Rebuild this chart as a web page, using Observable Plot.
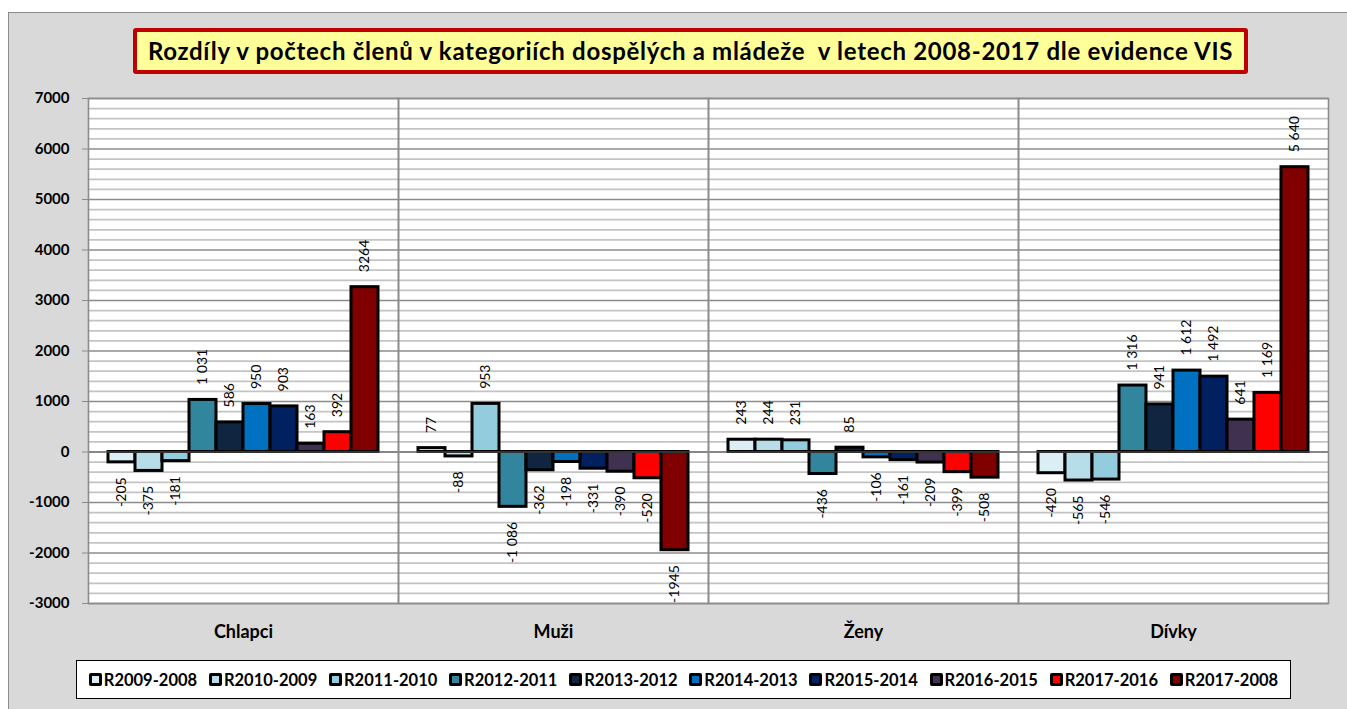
<!DOCTYPE html>
<html><head><meta charset="utf-8">
<script src="https://cdn.jsdelivr.net/npm/d3@7"></script>
<script src="https://cdn.jsdelivr.net/npm/@observablehq/plot@0.6"></script>
<style>
body{margin:0;background:#fff;font-family:Lato,"Open Sans",sans-serif;}
#wrap{position:relative;width:1347px;height:709px;overflow:hidden;}
#panel{position:absolute;left:8px;top:12px;width:1345px;height:705px;background:#d9d9d9;border:1px solid #8c8c8c;}
#title{position:absolute;left:133px;top:28px;width:1107px;height:38px;background:#ffff99;border:4px solid #c00000;border-radius:3px;font-weight:bold;font-size:24px;letter-spacing:0.7px;line-height:38px;text-align:center;white-space:pre;color:#000;}
#chart{position:absolute;left:0;top:0;}
#legend{position:absolute;left:76px;top:660px;width:1215px;height:39px;box-sizing:border-box;background:#fff;border:1.5px solid #000;display:flex;align-items:center;justify-content:space-evenly;font-weight:bold;font-size:16.5px;}
.it{white-space:nowrap;}
.sw{display:inline-block;width:7px;height:7px;border:3px solid #000;border-radius:2px;margin-right:2px;vertical-align:0px;}
</style>
</head><body>
<div id="wrap">
  <div id="panel"></div>
  <div id="title"></div>
  <div id="chart"></div>
  <div id="legend"></div>
</div>
<script>
const titleText = "Rozdíly v počtech členů v kategoriích dospělých a mládeže  v letech 2008-2017 dle evidence VIS";
const categories = ["Chlapci", "Muži", "Ženy", "Dívky"];
const series = ["R2009-2008","R2010-2009","R2011-2010","R2012-2011","R2013-2012","R2014-2013","R2015-2014","R2016-2015","R2017-2016","R2017-2008"];
const colors = ["#dbeef4","#b7dee8","#93cddd","#31859c","#10253f","#0070c0","#002060","#403151","#ff0000","#800000"];

const chlapci = [-205, -375, -181, 1031, 586, 950, 903, 163, 392, 3264];
const muzi    = [77, -88, 953, -1086, -362, -198, -331, -390, -520, -1945];
const zeny    = [243, 244, 231, -436, 85, -106, -161, -209, -399, -508];
const divky   = [-420, -565, -546, 1316, 941, 1612, 1492, 641, 1169, 5640];

const chlapciLabels = ["-205","-375","-181","1 031","586","950","903","163","392","3264"];
const muziLabels    = ["77","-88","953","-1 086","-362","-198","-331","-390","-520","-1945"];
const zenyLabels    = ["243","244","231","-436","85","-106","-161","-209","-399","-508"];
const divkyLabels   = ["-420","-565","-546","1 316","941","1 612","1 492","641","1 169","5 640"];

const yTicks = d3.range(-3000, 7001, 1000);
const yMinor = d3.range(-3000, 7001, 200).filter(v => v % 1000 !== 0);

const valueSets = [chlapci, muzi, zeny, divky];
const labelSets = [chlapciLabels, muziLabels, zenyLabels, divkyLabels];
const data = [];
categories.forEach((c, i) => series.forEach((s, j) => data.push({cat: c, series: s, value: valueSets[i][j], label: labelSets[i][j]})));

document.getElementById("title").textContent = titleText;

const plot = Plot.plot({
  width: 1347,
  height: 650,
  marginLeft: 87,
  marginRight: 19,
  marginTop: 98,
  marginBottom: 47,
  style: {background: "transparent", fontFamily: "Lato, 'Open Sans', sans-serif", color: "#000"},
  fx: {domain: categories, padding: 0, label: null},
  x: {type: "band", domain: series, paddingInner: 0, paddingOuter: 0.74, axis: null},
  y: {domain: [-3000, 7000], label: null},
  color: {domain: series, range: colors},
  marks: [
    Plot.frame({fill: "white", stroke: null}),
    Plot.ruleY(yMinor, {stroke: "#c4c4c4", strokeWidth: 1.8}),
    Plot.ruleY(yTicks, {stroke: "#8c8c8c", strokeWidth: 1.6}),
    Plot.barY(data, {fx: "cat", x: "series", y: "value", fill: "series", stroke: "#000", strokeWidth: 3}),
    Plot.ruleY([0], {stroke: "#666", strokeWidth: 1.2}),
    Plot.text(data.filter(d => d.value >= 0), {fx: "cat", x: "series", y: "value", text: "label", rotate: -90, textAnchor: "start", dy: -15, fontSize: 14, fill: "#000"}),
    Plot.text(data.filter(d => d.value < 0), {fx: "cat", x: "series", y: "value", text: "label", rotate: -90, textAnchor: "end", dy: 15, fontSize: 14, fill: "#000"}),
    Plot.frame({stroke: "#8c8c8c", strokeWidth: 1.6}),
    Plot.axisY({ticks: yTicks, tickFormat: d => String(d), tickSize: 6, tickPadding: 13, stroke: "#8c8c8c", fontSize: 15, fontWeight: "bold", fill: "#000", label: null}),
    Plot.axisFx({anchor: "bottom", tickSize: 0, tickPadding: 22, fontSize: 18, fontWeight: "bold", fill: "#000", label: null})
  ]
});
document.getElementById("chart").appendChild(plot);

const legend = document.getElementById("legend");
series.forEach((s, i) => {
  const it = document.createElement("span");
  it.className = "it";
  const sw = document.createElement("span");
  sw.className = "sw";
  sw.style.background = colors[i];
  it.appendChild(sw);
  it.appendChild(document.createTextNode(s));
  legend.appendChild(it);
});
</script>
</body></html>
